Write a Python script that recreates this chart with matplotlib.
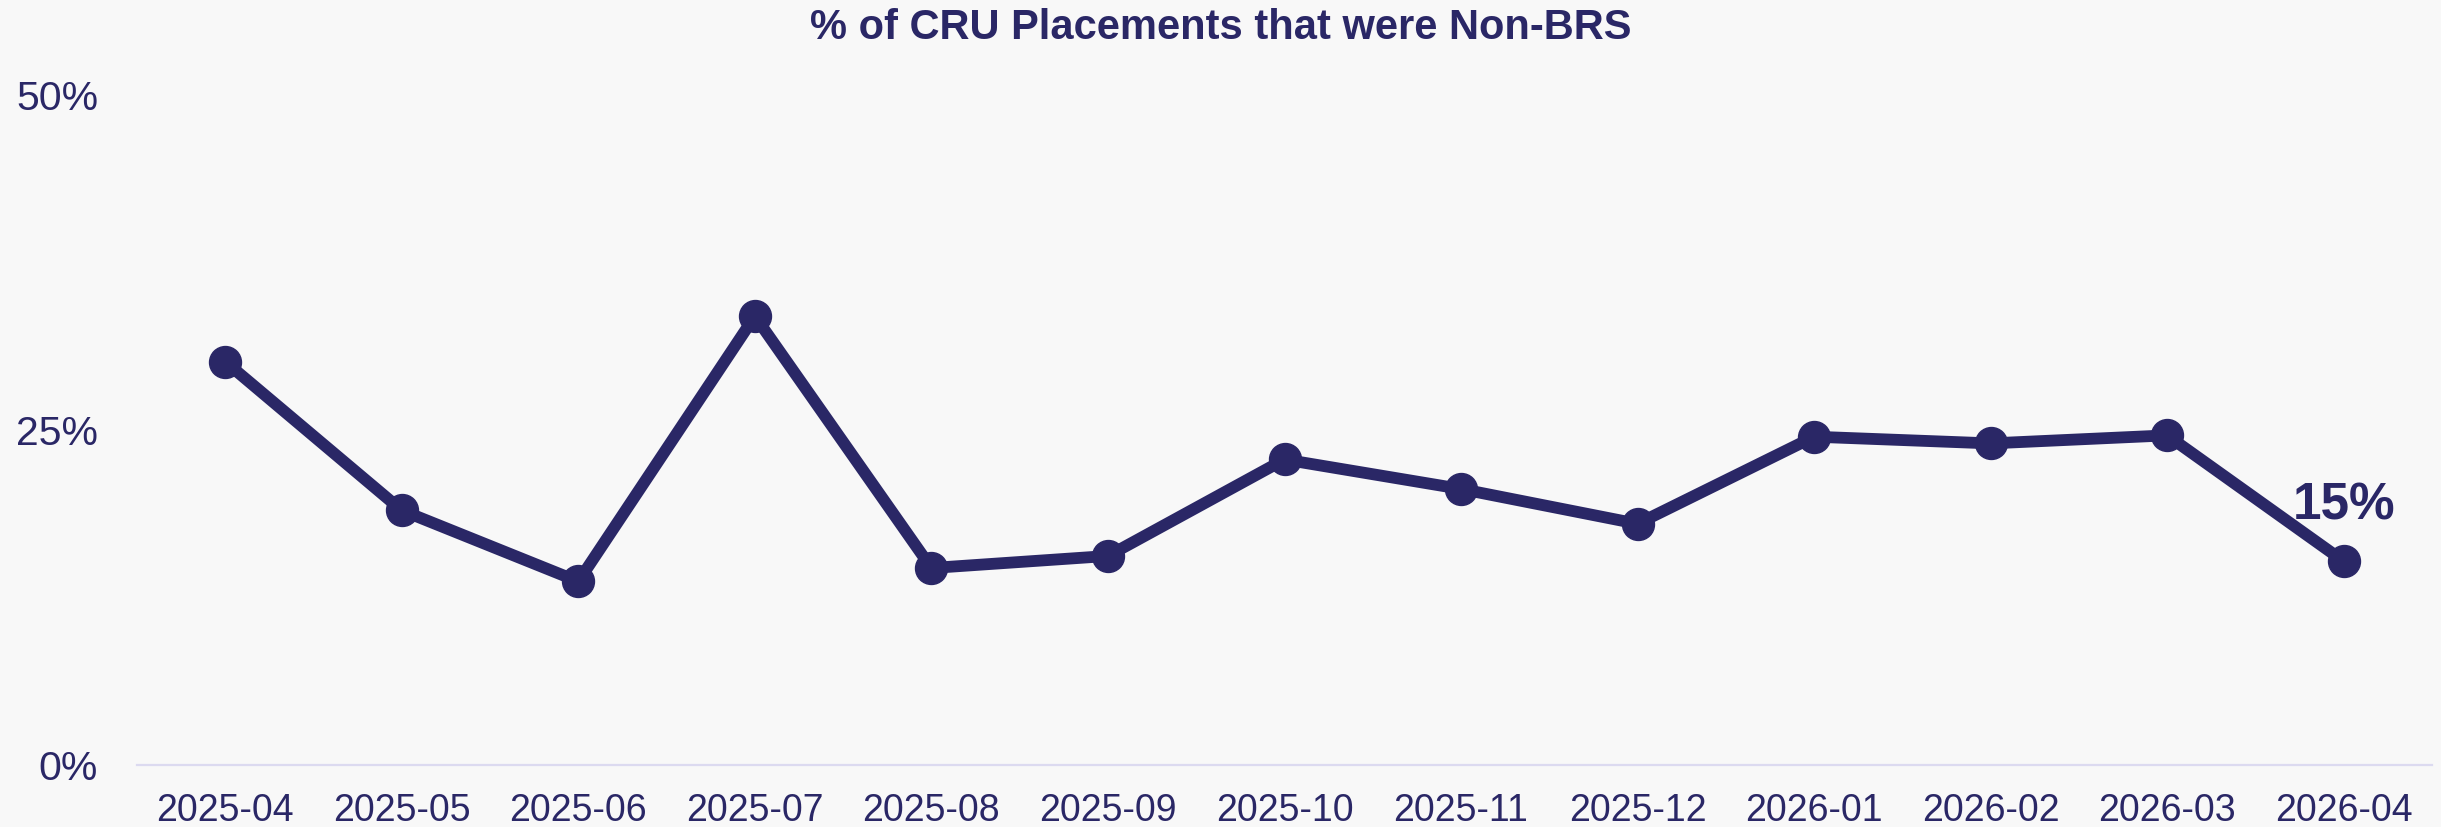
import matplotlib.pyplot as plt
import matplotlib.ticker as ticker

# Monthly share of CRU placements that were non-BRS (%)
months = ['2025-04', '2025-05', '2025-06', '2025-07', '2025-08', '2025-09', '2025-10',
          '2025-11', '2025-12', '2026-01', '2026-02', '2026-03', '2026-04']
pct_non_brs = [30.1, 19.0, 13.7, 33.5, 14.7, 15.6, 22.8, 20.6, 18.0, 24.5, 24.0, 24.6, 15.2]
y_ticks = [0, 25, 50]

navy = '#2a2766'
bg = '#f8f8f8'
plt.rcParams['font.family'] = ['Liberation Sans', 'DejaVu Sans']

fig = plt.figure(figsize=(24.41, 8.27), dpi=100, facecolor=bg)
ax = fig.add_axes([137 / 2441, 1 - 765 / 827, (2432 - 137) / 2441, (765 - 95) / 827])
ax.set_facecolor(bg)

x = range(len(months))
ax.plot(x, pct_non_brs, color=navy, linewidth=8.5, marker='o', markersize=23,
        solid_capstyle='round', zorder=3, clip_on=False)

# label the latest value
ax.annotate(f'{pct_non_brs[-1]:.0f}%', (len(months) - 1, pct_non_brs[-1]),
            xytext=(0, 22), textcoords='offset points', ha='center', va='bottom',
            fontsize=37, fontweight='bold', color=navy)

ax.set_xlim(-0.5, len(months) - 0.5)
ax.set_ylim(0, 50)
ax.set_xticks(list(x))
ax.set_xticklabels(months)
ax.set_yticks(y_ticks)
ax.yaxis.set_major_formatter(ticker.FuncFormatter(lambda v, _: f'{v:.0f}%'))
ax.tick_params(axis='x', length=0, pad=20, labelsize=27, labelcolor=navy)
ax.tick_params(axis='y', length=0, pad=28, labelsize=29.5, labelcolor=navy)

for side in ['top', 'right', 'left']:
    ax.spines[side].set_visible(False)
ax.spines['bottom'].set_color('#dcdaf0')
ax.spines['bottom'].set_linewidth(1.6)

fig.text(0.5, 1 - 28 / 827, '% of CRU Placements that were Non-BRS', ha='center', va='center',
         fontsize=30, fontweight='bold', color=navy)

plt.savefig('out.png', dpi=100, facecolor=fig.get_facecolor())
plt.close()
